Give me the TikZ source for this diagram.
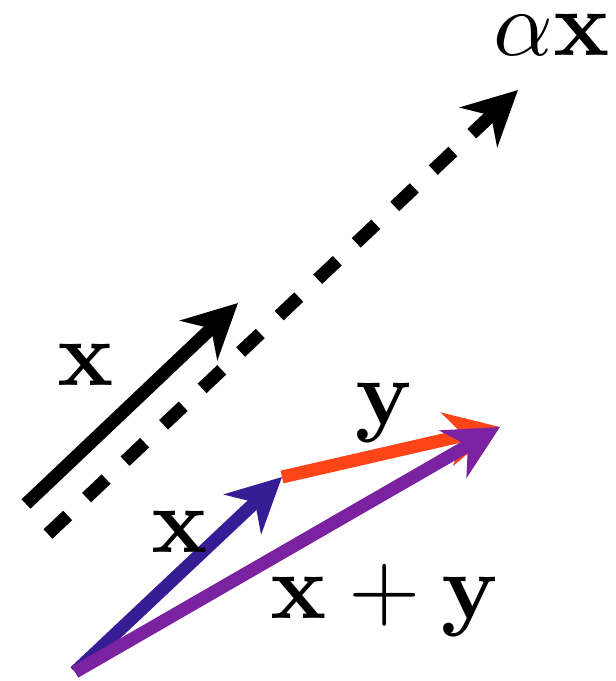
\documentclass[tikz,border=0pt]{standalone}
\usepackage{amsmath}
\usetikzlibrary{arrows.meta}
\definecolor{vblue}{RGB}{56,28,150}
\definecolor{vred}{RGB}{255,69,23}
\definecolor{vpurple}{RGB}{122,34,160}
\tikzset{
  vec/.style={line width=13pt, line cap=butt, -{Stealth[length=54pt,width=54pt,inset=17pt]}},
  lbl/.style={inner sep=0pt, anchor=base, scale=9.3},
}
\begin{document}
\begin{tikzpicture}[x=1pt,y=-1pt]
\useasboundingbox (0,0) rectangle (616,681);
% coordinates
\coordinate (A0) at (26,504);
\coordinate (A1) at (238,303);
\coordinate (D0) at (48,534);
\coordinate (D1) at (518,90);
\coordinate (O) at (75,672);
\coordinate (X) at (282,477);
\coordinate (S) at (500,427);
% vectors
\draw[vec, black] (A0) -- (A1);
\draw[vec, black, dash pattern=on 27pt off 26pt] (D0) -- (D1);
\draw[vec, vblue] (O) -- (X);
\draw[vec, vred] (X) -- (S);
\draw[vec, vpurple] (O) -- (S);
% labels
\node[lbl] (lax) at (552,55) {$\alpha\mathbf{x}$};
\node[lbl] (lx1) at (86,385) {$\mathbf{x}$};
\node[lbl] (ly) at (384,424) {$\mathbf{y}$};
\node[lbl] (lx2) at (180,552) {$\mathbf{x}$};
\node[lbl] (lxy) at (385,618) {$\mathbf{x}+\mathbf{y}$};
\end{tikzpicture}
\end{document}
